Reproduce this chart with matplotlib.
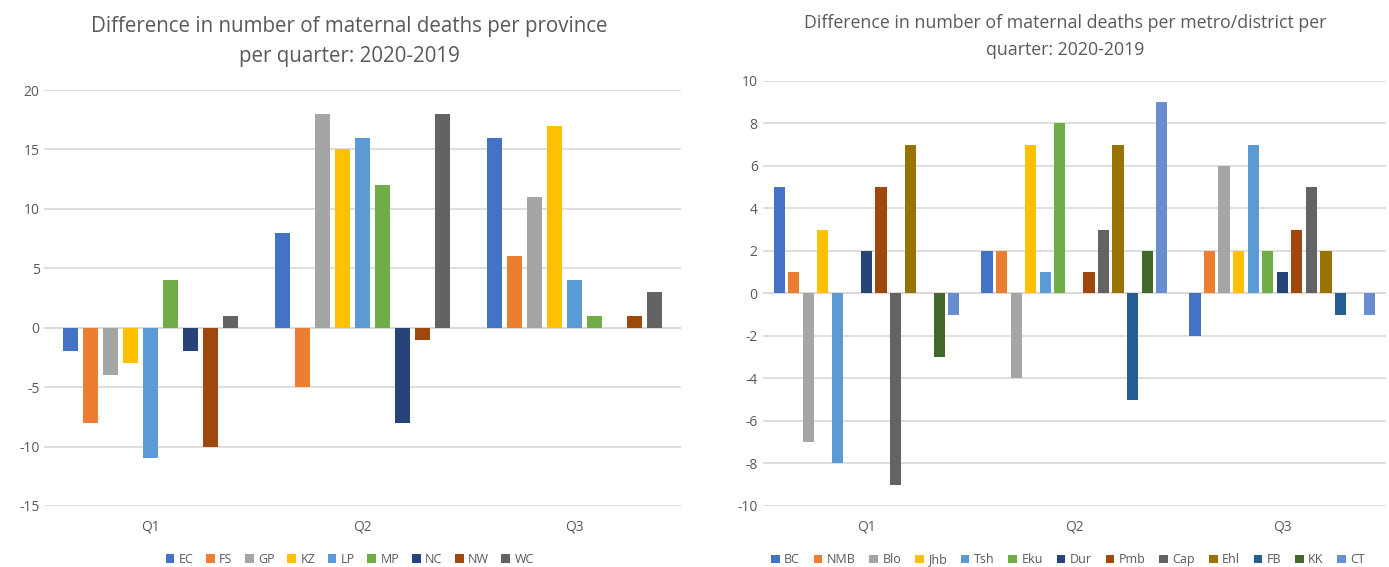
import numpy as np
import matplotlib.pyplot as plt

quarters = ["Q1", "Q2", "Q3"]

provinces = ["EC", "FS", "GP", "KZ", "LP", "MP", "NC", "NW", "WC"]
prov_diff = {
    "EC": [-2, 8, 16],
    "FS": [-8, -5, 6],
    "GP": [-4, 18, 11],
    "KZ": [-3, 15, 17],
    "LP": [-11, 16, 4],
    "MP": [4, 12, 1],
    "NC": [-2, -8, 0],
    "NW": [-10, -1, 1],
    "WC": [1, 18, 3],
}

districts = ["BC", "NMB", "Blo", "Jhb", "Tsh", "Eku", "Dur", "Pmb", "Cap", "Ehl", "FB", "KK", "CT"]
dist_diff = {
    "BC": [5, 2, -2],
    "NMB": [1, 2, 2],
    "Blo": [-7, -4, 6],
    "Jhb": [3, 7, 2],
    "Tsh": [-8, 1, 7],
    "Eku": [0, 8, 2],
    "Dur": [2, 0, 1],
    "Pmb": [5, 1, 3],
    "Cap": [-9, 3, 5],
    "Ehl": [7, 7, 2],
    "FB": [0, -5, -1],
    "KK": [-3, 2, 0],
    "CT": [-1, 9, -1],
}

# office palette
colours = ["#4472C4", "#ED7D31", "#A5A5A5", "#FFC000", "#5B9BD5", "#70AD47",
           "#264478", "#9E480E", "#636363", "#997300", "#255E91", "#43682B", "#698ED0"]

txt = "#595959"
plt.rcParams['font.family'] = ['Open Sans', 'DejaVu Sans']
plt.rcParams['axes.unicode_minus'] = False


def grouped(ax, names, data, slot, width, ylim, step, title, title_size, title_xy, colsp, leg_x):
    x = np.arange(len(quarters))
    n = len(names)
    for i, name in enumerate(names):
        off = (i - (n - 1) / 2) * slot
        ax.bar(x + off, data[name], width, color=colours[i], label=name, zorder=3)
    ax.set_xlim(-0.5, len(quarters) - 0.5)
    ax.set_ylim(*ylim)
    ax.set_yticks(np.arange(ylim[0], ylim[1] + 1, step))
    ax.set_xticks(x)
    ax.set_xticklabels(quarters)
    ax.grid(axis='y', color="#D9D9D9", linewidth=1.2, zorder=0)
    ax.axhline(0, color="#D9D9D9", linewidth=1.2, zorder=1)
    for s in ax.spines.values():
        s.set_visible(False)
    ax.tick_params(length=0, colors=txt, labelsize=10)
    ax.tick_params(axis='x', pad=10)
    ax.text(title_xy[0], title_xy[1], title, transform=ax.transAxes, ha='center', va='bottom',
            fontsize=title_size, color=txt, linespacing=1.6)
    leg = ax.legend(loc='upper center', bbox_to_anchor=(leg_x, -0.085), ncol=n, frameon=False,
                    fontsize=9, handlelength=0.7, handleheight=0.7, handletextpad=0.35,
                    columnspacing=colsp)
    for t in leg.get_texts():
        t.set_color(txt)


fig = plt.figure(figsize=(13.89, 5.67), dpi=100)
ax1 = fig.add_axes([0.032, 0.1076, 0.458, 0.7336])
ax2 = fig.add_axes([0.549, 0.1076, 0.449, 0.7496])

grouped(ax1, provinces, prov_diff, 0.094, 0.072, (-15, 20), 5,
        "Difference in number of maternal deaths per province\nper quarter: 2020-2019", 14.8,
        (0.479, 1.055), 1.0, 0.48)
grouped(ax2, districts, dist_diff, 0.07, 0.054, (-10, 10), 2,
        "Difference in number of maternal deaths per metro/district per\nquarter: 2020-2019", 12.8,
        (0.486, 1.052), 1.1, 0.49)

fig.savefig("out.png", dpi=100)
